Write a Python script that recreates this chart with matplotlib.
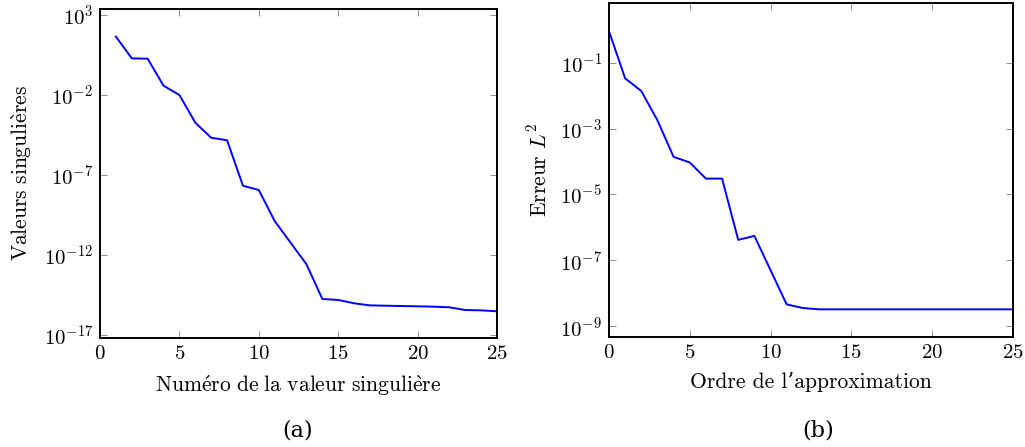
import matplotlib
matplotlib.use("Agg")
import matplotlib.pyplot as plt
import matplotlib.ticker as mticker

plt.rcParams['font.family'] = ['cmr10', 'DejaVu Serif']
plt.rcParams['mathtext.fontset'] = 'cm'
plt.rcParams['axes.unicode_minus'] = False
plt.rcParams['axes.formatter.use_mathtext'] = True

# (a) valeurs singulieres (log10)
idx_a = list(range(1, 26))
log_sv = [1.65, 0.29, 0.27, -1.42, -2.0, -3.73, -4.67, -4.83, -7.67, -7.94,
          -9.88, -11.23, -12.58, -14.75, -14.81, -15.02, -15.15, -15.17, -15.19, -15.21,
          -15.23, -15.27, -15.44, -15.46, -15.52]
sv = [10 ** v for v in log_sv]

# (b) erreur L2 (log10)
idx_b = list(range(0, 26))
log_err = [-0.04, -1.475, -1.86, -2.75, -3.86, -4.03, -4.52, -4.52, -6.38, -6.26,
           -7.30, -8.34, -8.45, -8.49, -8.49, -8.49, -8.49, -8.49, -8.49, -8.49,
           -8.49, -8.49, -8.49, -8.49, -8.49, -8.49]
err = [10 ** v for v in log_err]

fig = plt.figure(figsize=(10.25, 4.47), dpi=100)
ax1 = fig.add_axes([0.0976, 0.2438, 0.3873, 0.736])
ax2 = fig.add_axes([0.5941, 0.2461, 0.3941, 0.747])

fs = 15

ax1.plot(idx_a, sv, color='blue', lw=1.4)
ax1.set_yscale('log')
ax1.set_xlim(0, 25)
ax1.set_ylim(10 ** -17.19, 10 ** 3.375)
ax1.yaxis.set_major_locator(mticker.FixedLocator([1e3, 1e-2, 1e-7, 1e-12, 1e-17]))
ax1.set_xlabel(r"$\mathrm{Num\acute{e}ro\ de\ la\ valeur\ singuli\grave{e}re}$", fontsize=15.5)
ax1.set_ylabel(r"$\mathrm{Valeurs\ singuli\grave{e}res}$", fontsize=15.5, labelpad=7)

ax2.plot(idx_b, err, color='blue', lw=1.4)
ax2.set_yscale('log')
ax2.set_xlim(0, 25)
ax2.set_ylim(10 ** -9.33, 10 ** 0.81)
ax2.yaxis.set_major_locator(mticker.FixedLocator([1e-1, 1e-3, 1e-5, 1e-7, 1e-9]))
ax2.set_xlabel("Ordre de l’approximation", fontsize=15.5)
ax2.set_ylabel("Erreur $L^2$", fontsize=15.5, labelpad=7)

for ax in (ax1, ax2):
    ax.set_xticks([0, 5, 10, 15, 20, 25])
    ax.yaxis.set_minor_locator(mticker.NullLocator())
    ax.yaxis.set_major_formatter(mticker.LogFormatterSciNotation())
    ax.tick_params(direction='in', length=5, width=0.6, color='gray',
                   top=True, right=True, labelsize=fs, pad=5)
    ax.xaxis.labelpad = 7
    for s in ax.spines.values():
        s.set_linewidth(1.4)

fig.text(0.29, 0.012, "(a)", ha='center', va='bottom', fontsize=16, family='DejaVu Serif')
fig.text(0.798, 0.012, "(b)", ha='center', va='bottom', fontsize=16, family='DejaVu Serif')

plt.savefig("out.png", dpi=100)
plt.close()
